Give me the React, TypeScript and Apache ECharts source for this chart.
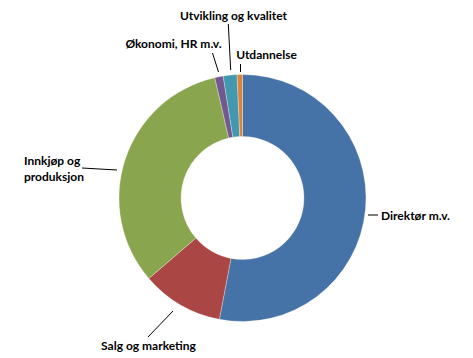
import React, { useEffect, useRef } from "react";
import * as echarts from "echarts";

const categories = [
  "Direktør m.v.",
  "Salg og marketing",
  "Innkjøp og\nproduksjon",
  "Økonomi, HR m.v.",
  "Utvikling og kvalitet",
  "Utdannelse",
];
const values = [53.0, 10.7, 32.7, 1.1, 1.8, 0.7];
const colors = ["#4572A7", "#AA4643", "#89A54E", "#71588F", "#4198AF", "#DB843D"];

// label anchor positions (x, y, align) and leader line points
const labelPos: { x: number; y: number; align: string }[] = [
  { x: 381, y: 215, align: "left" },
  { x: 148.5, y: 345, align: "center" },
  { x: 24, y: 168, align: "left" },
  { x: 173.5, y: 43, align: "center" },
  { x: 233.5, y: 15, align: "center" },
  { x: 266.5, y: 54, align: "center" },
];
const linePts: number[][][] = [
  [[368, 215], [378, 215]],
  [[173, 311], [148, 337]],
  [[117, 170], [82, 168]],
  [[218.5, 72], [212.5, 53]],
  [[230.7, 70], [228.3, 24]],
  [[240.5, 72], [240.5, 64]],
];

export default function App() {
  const ref = useRef<HTMLDivElement>(null);
  useEffect(() => {
    if (!ref.current) return;
    const chart = echarts.init(ref.current, null, { renderer: "svg" });
    chart.setOption({
      animation: false,
      backgroundColor: "#ffffff",
      series: [
        {
          type: "pie",
          center: [242.5, 198],
          radius: [61.5, 123.5],
          startAngle: 90,
          clockwise: true,
          avoidLabelOverlap: false,
          data: categories.map((c, i) => ({
            name: c,
            value: values[i],
            itemStyle: { color: colors[i] },
          })),
          itemStyle: { borderColor: "#ffffff", borderWidth: 0.3 },
          label: {
            show: true,
            position: "outside",
            formatter: "{b}",
            fontFamily: "Lato",
            fontWeight: "bold",
            fontSize: 12,
            lineHeight: 16,
            color: "#000000",
          },
          labelLine: {
            show: true,
            lineStyle: { color: "#000000", width: 1 },
          },
          labelLayout: (params: any) => {
            const i = params.dataIndex;
            const p = labelPos[i];
            return {
              x: p.x,
              y: p.y,
              align: p.align,
              verticalAlign: "middle",
              labelLinePoints: linePts[i],
            };
          },
        },
      ],
    });
    return () => chart.dispose();
  }, []);
  return (
    <div
      ref={ref}
      style={{ position: "absolute", left: 0, top: 0, width: 473, height: 358 }}
    />
  );
}
